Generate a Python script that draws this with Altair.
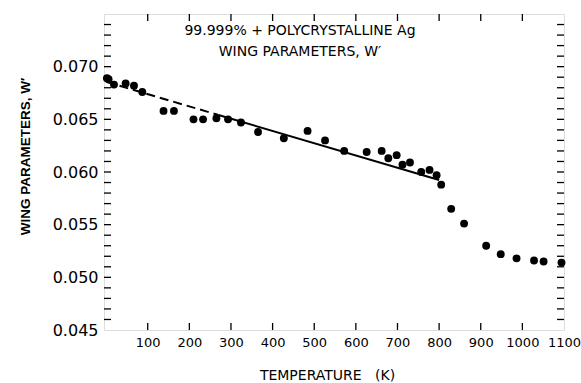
import altair as alt
import pandas as pd

# Measured points: temperature (K) and wing parameter W'
temp_K = [2, 6, 19, 47, 67, 87, 138, 163, 210, 233, 265, 293, 324, 365, 427, 484, 526,
          572, 626, 662, 678, 698, 712, 730, 757, 777, 794, 805, 829, 860, 913, 948,
          986, 1028, 1051, 1094]
wing_W = [0.0689, 0.0688, 0.0683, 0.0684, 0.0682, 0.0676, 0.0658, 0.0658, 0.0650, 0.0650,
          0.0651, 0.0650, 0.0647, 0.0638, 0.0632, 0.0639, 0.0630,
          0.0620, 0.0619, 0.0620, 0.0613, 0.0616, 0.0607, 0.0609, 0.0600, 0.0602,
          0.0597, 0.0588, 0.0565, 0.0551, 0.0530, 0.0522, 0.0518, 0.0516, 0.0515, 0.0514]

# Fitted line: dashed (extrapolated) and solid parts
fit_dash_T = [0, 270]
fit_dash_W = [0.06856, 0.06541]
fit_solid_T = [270, 800]
fit_solid_W = [0.06541, 0.05924]

x_tick_labels = [100, 200, 300, 400, 500, 600, 700, 800, 900, 1000, 1100]
y_tick_labels = [0.045, 0.050, 0.055, 0.060, 0.065, 0.070]
x_ticks = [100, 200, 300, 400, 500, 600, 700, 800, 900, 1000]
y_ticks = [round(0.046 + 0.001 * i, 3) for i in range(29)]

title_lines = ["99.999% + POLYCRYSTALLINE Ag", "WING PARAMETERS, W\u2032"]

W, H = 460, 316
FONT = "DejaVu Sans"

pts = pd.DataFrame({"T": temp_K, "W": wing_W})
dash_df = pd.DataFrame({"T": fit_dash_T, "W": fit_dash_W})
solid_df = pd.DataFrame({"T": fit_solid_T, "W": fit_solid_W})
xt = pd.DataFrame({"T": x_ticks})
yt = pd.DataFrame({"W": y_ticks})

xscale = alt.Scale(domain=[-5, 1100], nice=False, zero=False)
yscale = alt.Scale(domain=[0.045, 0.075], nice=False, zero=False)

xaxis = alt.Axis(values=x_tick_labels, format="d", ticks=False, domain=False, grid=False,
                 labelFont=FONT, labelFontSize=13, labelColor="black", labelPadding=6,
                 labelFlush=False, labelOverlap=False,
                 title="TEMPERATURE\u00a0\u00a0\u00a0(K)", titleFont=FONT, titleFontSize=14,
                 titleFontWeight="normal", titleColor="black",
                 titleX=223, titleY=45, titleBaseline="middle", titleAnchor="middle")
yaxis = alt.Axis(values=y_tick_labels, format=".3f", ticks=False, domain=False, grid=False,
                 labelFont=FONT, labelFontSize=16, labelColor="black", labelPadding=6,
                 labelFlush=False,
                 title="WING PARAMETERS, W\u2032", titleFont="Liberation Sans", titleFontSize=13.5,
                 titleFontWeight="bold", titleColor="black", titleAngle=-90,
                 titleX=-79, titleY=142, titleBaseline="middle", titleAlign="center")

points = alt.Chart(pts).mark_circle(size=62, color="black", opacity=1).encode(
    x=alt.X("T:Q", scale=xscale, axis=xaxis),
    y=alt.Y("W:Q", scale=yscale, axis=yaxis),
)

dash_line = alt.Chart(dash_df).mark_line(color="black", strokeWidth=2, strokeDash=[9, 5]).encode(
    x=alt.X("T:Q", scale=xscale), y=alt.Y("W:Q", scale=yscale))
solid_line = alt.Chart(solid_df).mark_line(color="black", strokeWidth=2).encode(
    x=alt.X("T:Q", scale=xscale), y=alt.Y("W:Q", scale=yscale))

tick_len = 7
bottom_ticks = alt.Chart(pd.DataFrame({"T": x_tick_labels[:-1]})).mark_rule(color="black", strokeWidth=1.3).encode(
    x=alt.X("T:Q", scale=xscale), y=alt.value(H), y2=alt.value(H - tick_len))
top_ticks = alt.Chart(xt).mark_rule(color="black", strokeWidth=1.3).encode(
    x=alt.X("T:Q", scale=xscale), y=alt.value(0), y2=alt.value(tick_len))
left_ticks = alt.Chart(yt).mark_rule(color="black", strokeWidth=1.3).encode(
    y=alt.Y("W:Q", scale=yscale), x=alt.value(0), x2=alt.value(tick_len))
right_ticks = alt.Chart(yt).mark_rule(color="black", strokeWidth=1.3).encode(
    y=alt.Y("W:Q", scale=yscale), x=alt.value(W), x2=alt.value(W - tick_len))

t1 = alt.Chart(pd.DataFrame({"t": [title_lines[0]]})).mark_text(
    font=FONT, fontSize=14, color="black", align="center", baseline="middle").encode(
    text="t:N", x=alt.value(196), y=alt.value(17))
t2 = alt.Chart(pd.DataFrame({"t": [title_lines[1]]})).mark_text(
    font=FONT, fontSize=14, color="black", align="center", baseline="middle").encode(
    text="t:N", x=alt.value(196), y=alt.value(38))

chart = alt.layer(
    bottom_ticks, top_ticks, left_ticks, right_ticks, dash_line, solid_line, points, t1, t2
).properties(
    width=W, height=H,
    autosize=alt.AutoSizeParams(type="none"),
    padding={"left": 104, "top": 14, "right": 17, "bottom": 53},
).configure_view(stroke="black", strokeWidth=1.5).configure(background="white")

chart.save("out.html", embed_options={"renderer": "svg", "actions": False})
